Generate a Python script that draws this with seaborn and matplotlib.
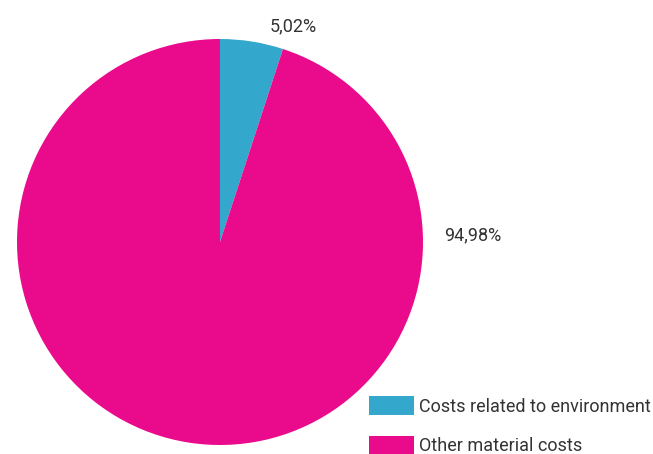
import matplotlib
matplotlib.use("Agg")
import matplotlib.pyplot as plt
import seaborn as sns

sns.set_theme(style="white")
plt.rcParams['font.family'] = ['Roboto', 'DejaVu Sans']

categories = ["Costs related to environment", "Other material costs"]
values = [5.02, 94.98]
value_labels = ["5,02%", "94,98%"]
colors = ["#33a7cc", "#ea0a8c"]

W, H = 653, 454
fig = plt.figure(figsize=(W / 100, H / 100), dpi=100)
ax = fig.add_axes([0, 0, 1, 1])

wedges, _ = ax.pie(values, colors=colors, startangle=90, counterclock=False,
                   center=(220, H - 242), radius=203, frame=True,
                   wedgeprops=dict(linewidth=0))
ax.set_xlim(0, W)
ax.set_ylim(0, H)
ax.set_aspect("equal")
ax.axis("off")

label_pos = [(293, H - 26), (473, H - 235)]
for (x, y), t in zip(label_pos, value_labels):
    ax.text(x, y, t, ha="center", va="center", fontsize=13, color="#333333")

leg = ax.legend(wedges, categories, loc="upper left",
                bbox_to_anchor=(355 / W, 1 - 382 / H), bbox_transform=fig.transFigure,
                frameon=False, fontsize=13, handlelength=2.45, handleheight=1.2,
                handletextpad=0.3, labelspacing=1.1, borderpad=0.3)
for t in leg.get_texts():
    t.set_color("#333333")

fig.savefig("out.png", dpi=100)
